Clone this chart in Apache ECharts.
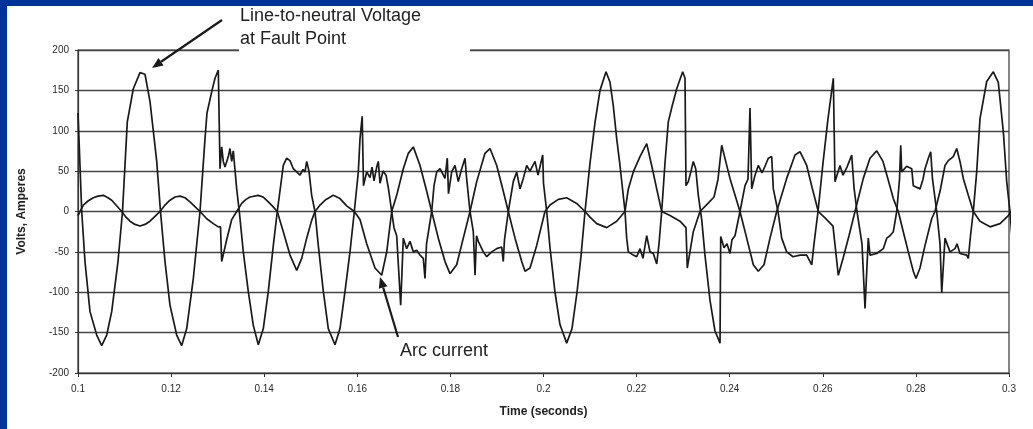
<!DOCTYPE html>
<html>
<head>
<meta charset="utf-8">
<script src="https://cdn.jsdelivr.net/npm/echarts@6/dist/echarts.min.js"></script>
<style>
  html, body { margin: 0; padding: 0; background: #fff; }
  #J_Chart { width: 1033px; height: 429px; }
</style>
</head>
<body>
<div id="J_Chart"></div>
<script>
// values (time in seconds)
const voltTime = [
  0.10000, 0.10080, 0.10150, 0.10258, 0.10402, 0.10509, 0.10617, 0.10724, 0.10859, 0.10956,
  0.11059, 0.11188, 0.11332, 0.11439, 0.11547, 0.11691, 0.11772, 0.11869, 0.11976, 0.12120,
  0.12228, 0.12335, 0.12477, 0.12621, 0.12728, 0.12771, 0.12879, 0.12943, 0.13014, 0.13051,
  0.13087, 0.13121, 0.13158, 0.13229, 0.13265, 0.13302, 0.13336, 0.13409, 0.13465, 0.13551,
  0.13658, 0.13766, 0.13873, 0.13981, 0.14088, 0.14196, 0.14281, 0.14354, 0.14410, 0.14483,
  0.14554, 0.14625, 0.14698, 0.14769, 0.14834, 0.14876, 0.14913, 0.14962, 0.15020, 0.15091,
  0.15162, 0.15270, 0.15377, 0.15521, 0.15628, 0.15736, 0.15843, 0.15936, 0.16022, 0.16058,
  0.16105, 0.16133, 0.16202, 0.16273, 0.16316, 0.16359, 0.16417, 0.16451, 0.16488, 0.16552,
  0.16617, 0.16670, 0.16739, 0.16788, 0.16846, 0.16932, 0.16988, 0.17061, 0.17132, 0.17203,
  0.17276, 0.17347, 0.17418, 0.17454, 0.17487, 0.17598, 0.17648, 0.17706, 0.17777, 0.17884,
  0.17933, 0.17959, 0.18028, 0.18099, 0.18170, 0.18243, 0.18314, 0.18350, 0.18421, 0.18492,
  0.18529, 0.18561, 0.18599, 0.18707, 0.18780, 0.18887, 0.18995, 0.19102, 0.19136, 0.19162,
  0.19244, 0.19351, 0.19424, 0.19495, 0.19566, 0.19639, 0.19710, 0.19817, 0.19882, 0.19983,
  0.20000, 0.20069, 0.20140, 0.20247, 0.20354, 0.20498, 0.20612, 0.20720, 0.20806, 0.20892,
  0.20999, 0.21106, 0.21214, 0.21343, 0.21429, 0.21499, 0.21573, 0.21643, 0.21751, 0.21787,
  0.21822, 0.21929, 0.22002, 0.22073, 0.22137, 0.22217, 0.22288, 0.22359, 0.22432, 0.22481,
  0.22539, 0.22610, 0.22681, 0.22761, 0.22862, 0.22990, 0.23040, 0.23061, 0.23111, 0.23169,
  0.23218, 0.23270, 0.23326, 0.23399, 0.23469, 0.23577, 0.23684, 0.23792, 0.23807, 0.23878,
  0.23942, 0.24006, 0.24049, 0.24114, 0.24221, 0.24329, 0.24393, 0.24436, 0.24473, 0.24544,
  0.24614, 0.24694, 0.24758, 0.24829, 0.24902, 0.24937, 0.25038, 0.25117, 0.25224, 0.25360,
  0.25510, 0.25654, 0.25762, 0.25811, 0.25897, 0.26004, 0.26112, 0.26226, 0.26262, 0.26370,
  0.26434, 0.26520, 0.26621, 0.26670, 0.26735, 0.26842, 0.26907, 0.26977, 0.27014, 0.27158,
  0.27300, 0.27373, 0.27444, 0.27515, 0.27588, 0.27648, 0.27674, 0.27695, 0.27802, 0.27910,
  0.27944, 0.28088, 0.28153, 0.28196, 0.28267, 0.28318, 0.28357, 0.28447, 0.28518, 0.28555,
  0.28625, 0.28733, 0.28840, 0.28883, 0.28947, 0.29091, 0.29126, 0.29173, 0.29233, 0.29306,
  0.29377, 0.29521, 0.29663, 0.29770, 0.29878, 0.29951, 0.30021, 0.30097
];
const voltVals = [
  122, 0, -62, -124, -153, -166, -153, -124, -62, 0,
  111, 152, 172, 170, 136, 62, 0, -62, -116, -153,
  -166, -145, -83, 0, 90, 122, 150, 165, 175, 53,
  80, 62, 55, 68, 78, 62, 75, 28, 0, -50,
  -99, -141, -165, -145, -99, -42, 0, 32, 57, 66,
  63, 53, 49, 45, 52, 49, 62, 50, 20, 0,
  -42, -99, -145, -165, -145, -99, -50, 0, 49, 90,
  118, 32, 49, 42, 55, 38, 55, 62, 35, 50,
  45, 28, 0, -20, -30, -116, -33, -46, -37, -50,
  -48, -54, -58, -83, -40, 0, 32, 49, 53, 41,
  66, 22, 49, 57, 37, 53, 66, 40, 0, -25,
  -79, -30, -37, -50, -56, -50, -46, -44, -62, -35,
  0, 37, 49, 28, 41, 57, 50, 62, 45, 70,
  35, 0, -45, -100, -140, -163, -145, -100, -55, 0,
  60, 110, 150, 173, 160, 131, 90, 57, 0, -33,
  -50, -54, -56, -46, -58, -30, -50, -52, -65, -40,
  0, 60, 111, 130, 152, 173, 165, 32, 37, 50,
  62, 53, 20, -10, -54, -110, -148, -163, -31, -45,
  -40, -52, -35, -30, 0, 32, 40, 128, 28, 45,
  57, 48, 56, 66, 68, 28, 0, -33, -50, -56,
  -54, -54, -66, -40, 0, 60, 115, 165, 37, 57,
  45, 55, 70, 30, 0, -40, -120, -33, -54, -52,
  -46, -33, -30, -25, 0, 40, 82, 49, 56, 53,
  32, 28, 40, 53, 66, 74, 40, 0, -40, -101,
  -33, -50, -46, -40, -52, -54, -58, -30, 0, 49,
  115, 161, 173, 160, 99, 37, 0, -55
];

const currTime = [
  0.10000, 0.10114, 0.10215, 0.10329, 0.10430, 0.10544, 0.10644, 0.10724, 0.10816, 0.10939,
  0.11031, 0.11117, 0.11224, 0.11332, 0.11439, 0.11547, 0.11654, 0.11762, 0.11869, 0.11976,
  0.12084, 0.12191, 0.12299, 0.12406, 0.12513, 0.12621, 0.12765, 0.12907, 0.13014, 0.13061,
  0.13087, 0.13121, 0.13194, 0.13302, 0.13409, 0.13517, 0.13609, 0.13695, 0.13873, 0.13974,
  0.14088, 0.14189, 0.14281, 0.14410, 0.14554, 0.14698, 0.14806, 0.14913, 0.15020, 0.15091,
  0.15199, 0.15328, 0.15484, 0.15628, 0.15772, 0.15936, 0.16058, 0.16202, 0.16380, 0.16524,
  0.16632, 0.16739, 0.16846, 0.16988, 0.17096, 0.17203, 0.17347, 0.17491, 0.17598, 0.17740,
  0.17884, 0.17991, 0.18135, 0.18277, 0.18421, 0.18565, 0.18743, 0.18851, 0.18995, 0.19136,
  0.19244, 0.19388, 0.19532, 0.19603, 0.19710, 0.19854, 0.20032, 0.20140, 0.20318, 0.20498,
  0.20713, 0.20892, 0.20999, 0.21143, 0.21358, 0.21573, 0.21751, 0.21822, 0.21929, 0.22073,
  0.22217, 0.22324, 0.22432, 0.22539, 0.22718, 0.22932, 0.23061, 0.23089, 0.23218, 0.23362,
  0.23534, 0.23663, 0.23749, 0.23828, 0.24006, 0.24221, 0.24365, 0.24507, 0.24614, 0.24737,
  0.24866, 0.25010, 0.25224, 0.25403, 0.25510, 0.25654, 0.25768, 0.25903, 0.26047, 0.26219,
  0.26333, 0.26440, 0.26563, 0.26692, 0.26870, 0.27014, 0.27158, 0.27293, 0.27401, 0.27515,
  0.27622, 0.27729, 0.27837, 0.27944, 0.28002, 0.28088, 0.28196, 0.28339, 0.28410, 0.28518,
  0.28625, 0.28696, 0.28803, 0.28877, 0.28947, 0.29018, 0.29126, 0.29233, 0.29377, 0.29592,
  0.29807, 0.29985, 0.30092
];
const currVals = [
  -5, 8, 13, 17, 19, 20, 17, 14, 8, 0,
  -7, -12, -16, -18, -16, -12, -6, 0, 8, 14,
  18, 19, 17, 12, 6, 0, -9, -15, -19, -19,
  -62, -60, -35, -10, 0, 10, 15, 18, 20, 18,
  12, 6, 0, -25, -54, -73, -58, -33, -11, 0,
  8, 15, 20, 16, 7, 0, -10, -40, -70, -79,
  -50, 0, 20, 53, 72, 80, 57, 25, 0, -33,
  -62, -77, -66, -33, 0, 37, 72, 78, 57, 25,
  0, -33, -62, -74, -70, -42, 0, 8, 15, 17,
  10, 0, -7, -15, -20, -12, 0, 28, 49, 68,
  84, 57, 28, 0, -5, -12, -20, -70, -25, 0,
  10, 18, 40, 82, 41, 0, -33, -66, -74, -66,
  -33, 0, 41, 70, 74, 57, 30, 0, -8, -18,
  -79, -57, -30, 0, 41, 66, 75, 62, 40, 16,
  0, -25, -50, -74, -83, -70, -42, -9, 0, 25,
  57, 63, 68, 78, 62, 41, 20, 0, -12, -19,
  -15, -5, 4
];

const xTickStep = 0.02;
const yTickStep = 50;

const chartDom = document.getElementById('J_Chart');
const myChart = echarts.init(chartDom);

const font = '"Liberation Sans", Arial, sans-serif';

function arrow(x1, y1, x2, y2) {
  // shaft from (x1,y1) to head at (x2,y2)
  const dx = x2 - x1, dy = y2 - y1;
  const len = Math.sqrt(dx * dx + dy * dy);
  const ux = dx / len, uy = dy / len;
  const bx = x2 - ux * 11, by = y2 - uy * 11;
  const nx = -uy * 4.5, ny = ux * 4.5;
  return [
    {
      type: 'line', z: 120,
      shape: { x1: x1, y1: y1, x2: bx, y2: by },
      style: { stroke: '#1a1a1a', lineWidth: 2.2 }
    },
    {
      type: 'polygon', z: 120,
      shape: { points: [[x2, y2], [bx + nx, by + ny], [bx - nx, by - ny]] },
      style: { fill: '#1a1a1a' }
    }
  ];
}

const option = {
  backgroundColor: '#fff',
  animation: false,
  grid: {
    left: 78, right: 24, top: 50, bottom: 56,
    show: true, borderColor: '#333', borderWidth: 1.2
  },
  xAxis: {
    type: 'value',
    min: 0.1, max: 0.3, interval: xTickStep,
    axisLine: { show: true, onZero: false, lineStyle: { color: '#333', width: 1.2 } },
    axisTick: { show: true, length: 4, lineStyle: { color: '#333' } },
    splitLine: { show: false },
    axisLabel: { fontSize: 10, color: '#2a2a2a', margin: 11, fontFamily: font },
    name: 'Time (seconds)',
    nameLocation: 'middle',
    nameGap: 33,
    nameTextStyle: { fontSize: 12, fontWeight: 'bold', color: '#222', fontFamily: font }
  },
  yAxis: {
    type: 'value',
    min: -200, max: 200, interval: yTickStep,
    axisLine: { show: true, lineStyle: { color: '#333', width: 1.2 } },
    axisTick: { show: true, length: 3, lineStyle: { color: '#333' } },
    splitLine: { show: true, lineStyle: { color: '#444', width: 1.3 } },
    axisLabel: { fontSize: 10, color: '#2a2a2a', margin: 9, fontFamily: font },
    name: 'Volts, Amperes',
    nameLocation: 'middle',
    nameGap: 50,
    nameTextStyle: { fontSize: 12, fontWeight: 'bold', color: '#222', fontFamily: font }
  },
  series: [
    {
      name: 'Line-to-neutral Voltage',
      type: 'line',
      data: voltTime.map((t, i) => [t, voltVals[i]]),
      showSymbol: false,
      clip: false,
      lineStyle: { color: '#1a1a1a', width: 1.7 },
      z: 3
    },
    {
      name: 'Arc current',
      type: 'line',
      data: currTime.map((t, i) => [t, currVals[i]]),
      showSymbol: false,
      clip: false,
      lineStyle: { color: '#1a1a1a', width: 1.7 },
      z: 3
    }
  ],
  graphic: [
    // blue slide frame
    { type: 'rect', z: 200, shape: { x: 0, y: 0, width: 7, height: 429 }, style: { fill: '#003399' } },
    { type: 'rect', z: 200, shape: { x: 0, y: 0, width: 1033, height: 6 }, style: { fill: '#003399' } },
    // white box behind the voltage note
    { type: 'rect', z: 110, shape: { x: 239, y: 8, width: 231, height: 46 }, style: { fill: '#fff' } },
    {
      type: 'text', z: 121, left: 240, top: 7,
      style: { text: 'Line-to-neutral Voltage', fill: '#222', font: '18px ' + font }
    },
    {
      type: 'text', z: 121, left: 240, top: 30,
      style: { text: 'at Fault Point', fill: '#222', font: '18px ' + font }
    },
    {
      type: 'text', z: 121, left: 400, top: 342,
      style: { text: 'Arc current', fill: '#222', font: '18px ' + font }
    }
  ].concat(arrow(222, 20, 152, 68), arrow(398, 337, 380, 277))
};

myChart.setOption(option);
</script>
</body>
</html>
